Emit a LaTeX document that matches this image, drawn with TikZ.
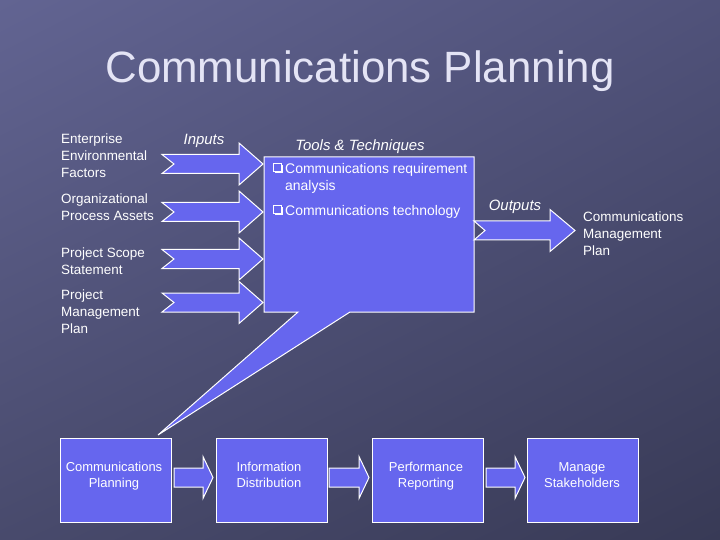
\documentclass[tikz,border=0pt]{standalone}
\usepackage{fontspec}
\setmainfont{Liberation Sans}
\usetikzlibrary{positioning,shadings}
\definecolor{boxfill}{RGB}{102,102,238}
\definecolor{titlecol}{RGB}{228,228,245}
\definecolor{bgA}{RGB}{98,100,146}
\definecolor{bgB}{RGB}{80,82,122}
\definecolor{bgC}{RGB}{72,74,108}
\definecolor{bgD}{RGB}{56,58,86}
\tikzset{
  blkarr/.style={fill=boxfill,draw=white,line width=1bp,line join=miter},
  procbox/.style={fill=boxfill,draw=white,line width=1bp,minimum width=111bp,minimum height=84bp,inner sep=0pt},
  lbl/.style={text=white,font=\fontsize{13.5}{17}\selectfont,align=left,inner sep=0pt},
  boxtxt/.style={text=white,font=\fontsize{13}{16}\selectfont,align=center,inner sep=0pt},
  itlbl/.style={text=white,font=\fontsize{15}{18}\selectfont\itshape,inner sep=0pt},
  bullet/.style={draw=white,line width=0.8bp}
}
% #1 tail x, #2 notch depth, #3 head base x, #4 tip x, #5 centre y
\newcommand{\blkarrow}[5]{%
  \filldraw[blkarr] (#1,#5-9.5) -- (#3,#5-9.5) -- (#3,#5-21) -- (#4,#5) -- (#3,#5+21) -- (#3,#5+9.5) -- (#1,#5+9.5) -- ({#1+#2},#5) -- cycle;}
\newcommand{\sqbullet}[2]{%
  \draw[bullet] (#1,#2) rectangle ({#1+8},{#2+8});
  \fill[white] ({#1+1.5},{#2+8}) rectangle ({#1+9.5},{#2+9.5});
  \fill[white] ({#1+8},{#2+1.5}) rectangle ({#1+9.5},{#2+9.5});}
\begin{document}
\begin{tikzpicture}[x=1bp,y=-1bp]
\useasboundingbox (0,0) rectangle (720,540);
\shade[upper left=bgA,upper right=bgB,lower left=bgC,lower right=bgD] (0,0) rectangle (720,540);

% title
\node[text=titlecol,font=\fontsize{44}{50}\selectfont,inner sep=0pt] (title) at (360,71) {Communications Planning};

% input labels
\node[lbl,anchor=north west] (in1) at (61,134) {Enterprise\\Environmental\\Factors};
\node[lbl,anchor=north west] (in2) at (61,194) {Organizational\\Process Assets};
\node[lbl,anchor=north west] (in3) at (61,248) {Project Scope\\Statement};
\node[lbl,anchor=north west] (in4) at (61,290) {Project\\Management\\Plan};

\node[itlbl] (inputs) at (204,141) {Inputs};
\node[itlbl] (tools) at (360,147) {Tools \& Techniques};
\node[itlbl] (outputs) at (515,207) {Outputs};

% callout box
\filldraw[blkarr] (264,157) -- (474,157) -- (474,312) -- (350,312) -- (158,435) -- (298,312) -- (264,312) -- cycle;

% bullets and tool text
\sqbullet{273}{163.5}
\sqbullet{273}{205.5}
\node[lbl,font=\fontsize{14}{17}\selectfont,anchor=north west] (t1) at (285,163.5) {Communications requirement\\analysis};
\node[lbl,font=\fontsize{14}{17}\selectfont,anchor=north west] (t2) at (285,205.5) {Communications technology};

% input arrows
\blkarrow{162}{12}{239}{263}{164}
\blkarrow{162}{12}{239}{263}{212}
\blkarrow{162}{12}{239}{263}{259}
\blkarrow{162}{12}{239}{263}{302.5}

% output arrow
\blkarrow{474}{11}{550}{575}{230.5}
\node[lbl,anchor=north west] (out) at (583,212) {Communications\\Management\\Plan};

% process boxes
\node[procbox] (b1) at (115.5,480) {};
\node[procbox] (b2) at (271.5,480) {};
\node[procbox] (b3) at (427.5,480) {};
\node[procbox] (b4) at (583,480) {};
\node[boxtxt,anchor=north] (b1t) at (114,462) {Communications\\Planning};
\node[boxtxt,anchor=north] (b2t) at (269,462) {Information\\Distribution};
\node[boxtxt,anchor=north] (b3t) at (426,462) {Performance\\Reporting};
\node[boxtxt,anchor=north] (b4t) at (582,462) {Manage\\Stakeholders};

% process arrows
\blkarrow{174}{0}{203}{213}{477.5}
\blkarrow{329}{0}{359}{369}{477.5}
\blkarrow{486}{0}{515}{525}{477.5}
\end{tikzpicture}
\end{document}
